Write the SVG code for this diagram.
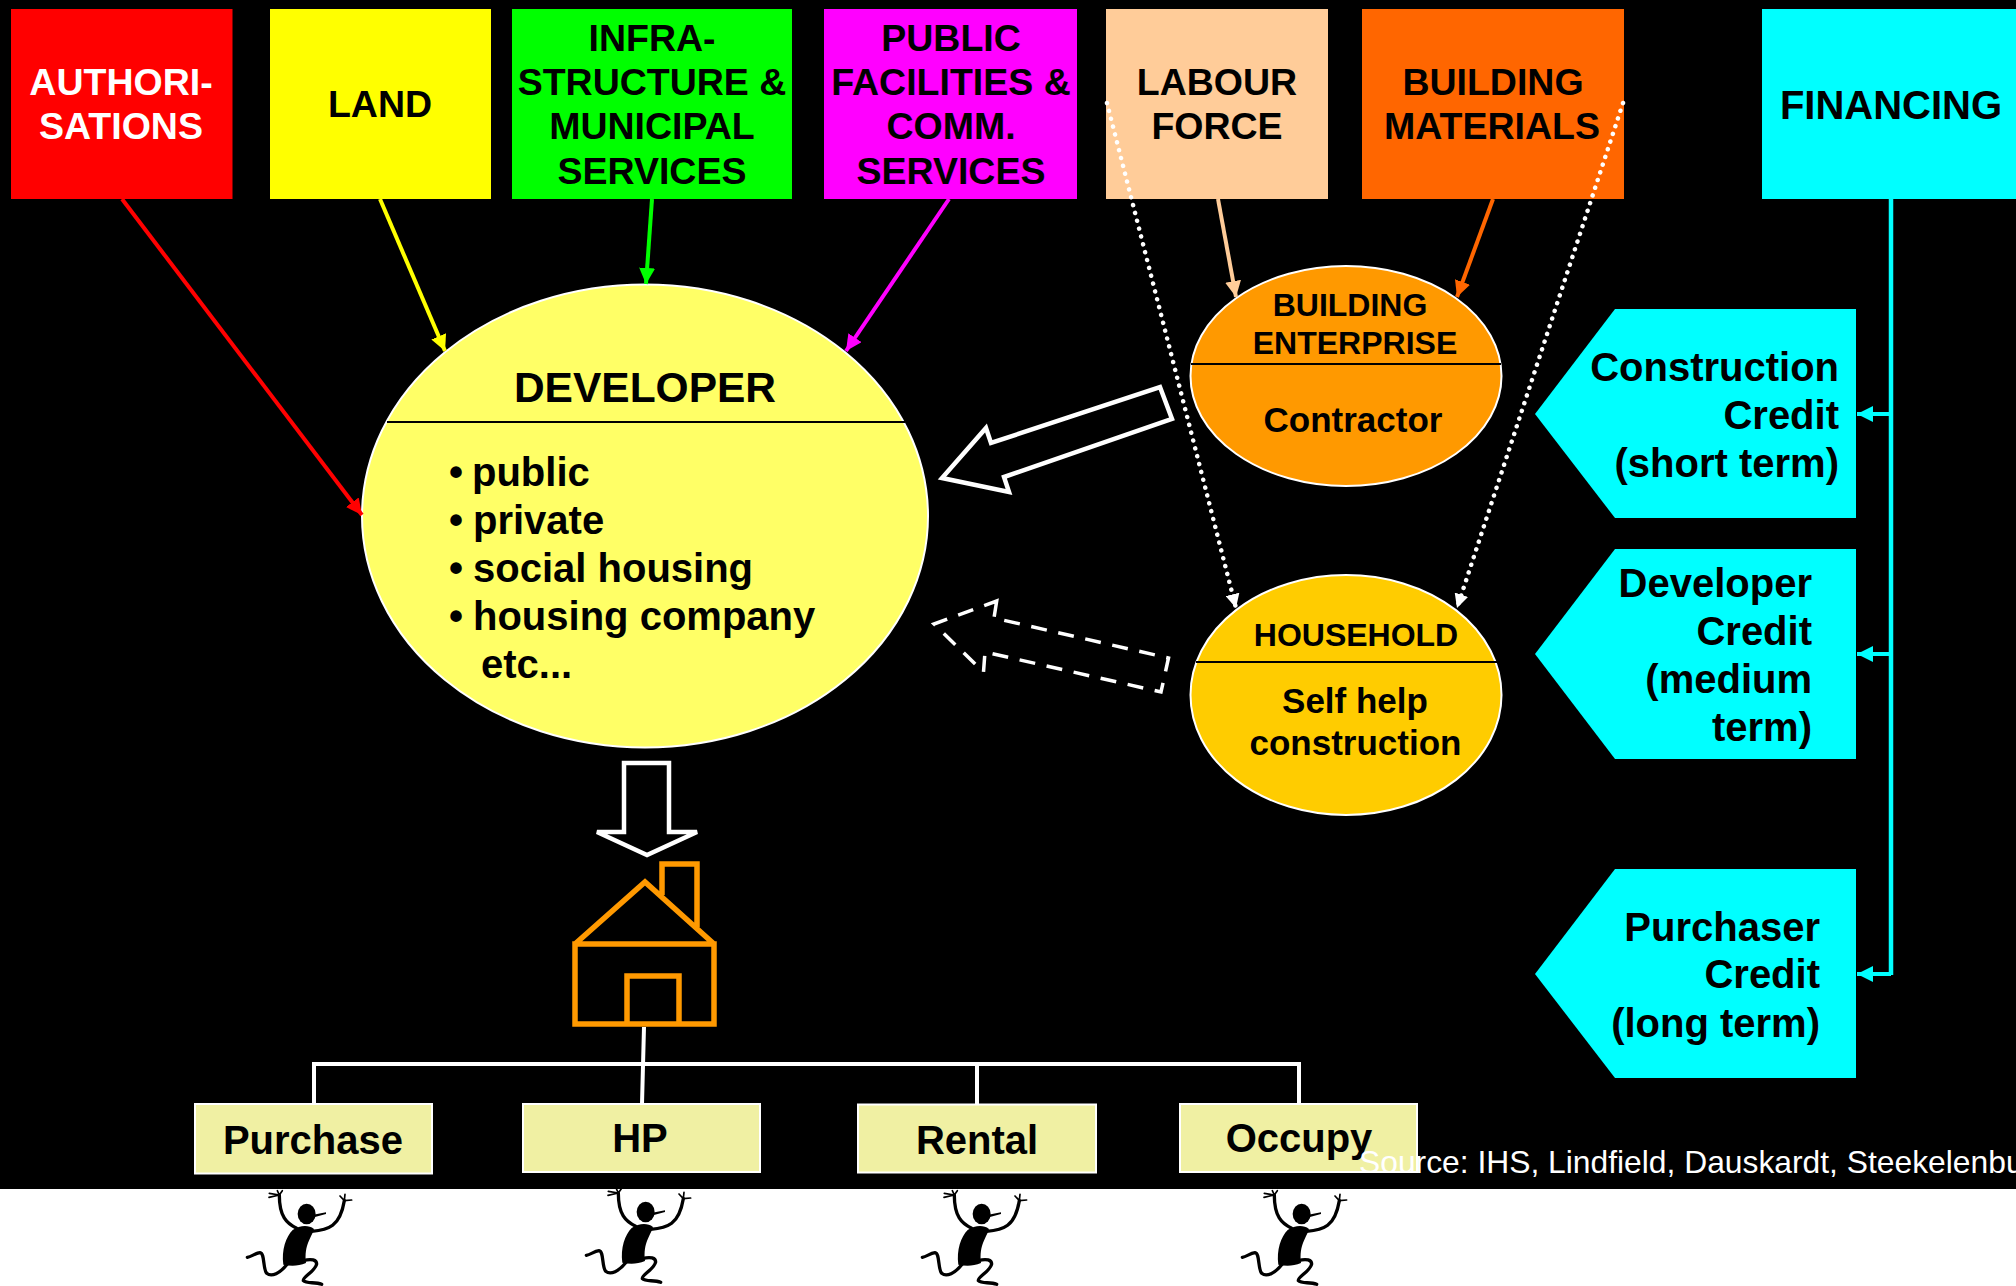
<svg xmlns="http://www.w3.org/2000/svg" width="2016" height="1286" viewBox="0 0 2016 1286">
<style>
text{font-family:"Liberation Sans",Arial,sans-serif;font-weight:700;fill:#000}
.t37{font-size:37.5px;text-anchor:middle}
.t40{font-size:40px}
.t40m{font-size:40px;text-anchor:middle}
.t32{font-size:32px;text-anchor:middle}
.t35{font-size:35px;text-anchor:middle}
.r{font-size:40px;text-anchor:end}
.ell{stroke:#fff;stroke-width:2}
.div{stroke:#000;stroke-width:2;fill:none}
.box{stroke:#fff;stroke-width:2;fill:#f0f0a3}
.cy{fill:#0ff}
.arrow{fill:none;stroke-width:4}
.dot{fill:none;stroke:#fff;stroke-width:4.5;stroke-linecap:round;stroke-dasharray:0.1 8}
.fat{fill:none;stroke:#fff;stroke-width:4.5}
.house{fill:none;stroke:#f90;stroke-width:5.500}
.tree{fill:none;stroke:#fff;stroke-width:4}
.fw{fill:none;stroke:#000;stroke-width:10;stroke-linecap:round;stroke-linejoin:round}
.fw2{fill:none;stroke:#000;stroke-width:5;stroke-linecap:round}
</style>
<defs>
<marker id="mr" viewBox="0 0 10 10" refX="10" refY="5" markerWidth="16" markerHeight="16" markerUnits="userSpaceOnUse" orient="auto"><path d="M0 0L10 5L0 10Z" fill="#f00"/></marker>
<marker id="my" viewBox="0 0 10 10" refX="10" refY="5" markerWidth="16" markerHeight="16" markerUnits="userSpaceOnUse" orient="auto"><path d="M0 0L10 5L0 10Z" fill="#ff0"/></marker>
<marker id="mg" viewBox="0 0 10 10" refX="10" refY="5" markerWidth="16" markerHeight="16" markerUnits="userSpaceOnUse" orient="auto"><path d="M0 0L10 5L0 10Z" fill="#0f0"/></marker>
<marker id="mm" viewBox="0 0 10 10" refX="10" refY="5" markerWidth="16" markerHeight="16" markerUnits="userSpaceOnUse" orient="auto"><path d="M0 0L10 5L0 10Z" fill="#f0f"/></marker>
<marker id="mp" viewBox="0 0 10 10" refX="10" refY="5" markerWidth="16" markerHeight="16" markerUnits="userSpaceOnUse" orient="auto"><path d="M0 0L10 5L0 10Z" fill="#fc9"/></marker>
<marker id="mo" viewBox="0 0 10 10" refX="10" refY="5" markerWidth="16" markerHeight="16" markerUnits="userSpaceOnUse" orient="auto"><path d="M0 0L10 5L0 10Z" fill="#f60"/></marker>
<marker id="mw" viewBox="0 0 10 10" refX="10" refY="5" markerWidth="14" markerHeight="14" markerUnits="userSpaceOnUse" orient="auto"><path d="M0 0L10 5L0 10Z" fill="#fff"/></marker>
<marker id="mc" viewBox="0 0 10 10" refX="10" refY="5" markerWidth="16" markerHeight="16" markerUnits="userSpaceOnUse" orient="auto"><path d="M0 0L10 5L0 10Z" fill="#0ff"/></marker>
<g id="fig" transform="scale(.3333)">
<ellipse cx="320" cy="402" rx="27" ry="31"/>
<path d="M340 404L378 397L378 402L342 412Z"/>
<path d="M278 450C300 436 325 434 342 447C334 474 312 494 318 549C295 559 272 559 250 554C244 510 258 470 278 450Z"/>
<path class="fw" d="M290 445C260 430 238 410 238 345"/>
<path class="fw" d="M335 454C385 450 420 440 433 362"/>
<path class="fw" d="M262 552C240 580 215 592 200 580C188 565 195 520 180 518C165 520 155 530 142 532"/>
<path class="fw" d="M310 542C335 535 350 540 350 552C345 575 308 590 310 602C320 612 345 605 365 613"/>
<path class="fw2" d="M238 345L208 340M238 345L207 352M238 345L232 332M238 345L247 332M433 362L420 348M433 362L435 343M433 362L455 360"/>
</g>
</defs>
<rect id="background" x="0" y="0" width="2016" height="1189" fill="#000"/>
<g id="authorisations"><rect x="11" y="9" width="221.500" height="190" fill="#f00"/><text class="t37" x="121" y="95" style="fill:#fff">AUTHORI-</text><text class="t37" x="121" y="139" style="fill:#fff">SATIONS</text></g>
<g id="land"><rect x="270" y="9" width="221" height="190" fill="#ff0"/><text class="t37" x="380" y="117">LAND</text></g>
<g id="infrastructure"><rect x="512" y="9" width="280" height="190" fill="#0f0"/><text class="t37" x="652" y="51">INFRA-</text><text class="t37" x="652" y="95">STRUCTURE &amp;</text><text class="t37" x="652" y="139">MUNICIPAL</text><text class="t37" x="652" y="184">SERVICES</text></g>
<g id="public-facilities"><rect x="824" y="9" width="253" height="190" fill="#f0f"/><text class="t37" x="951" y="51">PUBLIC</text><text class="t37" x="951" y="95">FACILITIES &amp;</text><text class="t37" x="951" y="139">COMM.</text><text class="t37" x="951" y="184">SERVICES</text></g>
<g id="labour-force"><rect x="1106" y="9" width="222" height="190" fill="#fc9"/><text class="t37" x="1217" y="95">LABOUR</text><text class="t37" x="1217" y="139">FORCE</text></g>
<g id="building-materials"><rect x="1362" y="9" width="262" height="190" fill="#f60"/><text class="t37" x="1493" y="95">BUILDING</text><text class="t37" x="1492" y="139">MATERIALS</text></g>
<g id="financing"><rect x="1762" y="9" width="254" height="190" fill="#0ff"/><text class="t40m" x="1891" y="119">FINANCING</text></g>
<g id="developer"><ellipse class="ell" cx="645" cy="516" rx="283" ry="231.500" fill="#ff6"/><path class="div" d="M387 422H905"/><text class="t40m" x="645" y="402" style="font-size:42.5px">DEVELOPER</text>
<text class="t40" x="449" y="486">•</text><text class="t40" x="472" y="486">public</text>
<text class="t40" x="449" y="534">•</text><text class="t40" x="473" y="534">private</text>
<text class="t40" x="449" y="582">•</text><text class="t40" x="473" y="582">social housing</text>
<text class="t40" x="449" y="630">•</text><text class="t40" x="473" y="630">housing company</text>
<text class="t40" x="481" y="678">etc...</text></g>
<g id="building-enterprise"><ellipse class="ell" cx="1346" cy="376" rx="155.500" ry="110" fill="#f90"/><path class="div" d="M1191 364H1501"/><text class="t32" x="1350" y="316">BUILDING</text><text class="t32" x="1355" y="354">ENTERPRISE</text><text class="t35" x="1353" y="432">Contractor</text></g>
<g id="household"><ellipse class="ell" cx="1346" cy="695" rx="155.500" ry="120" fill="#fc0"/><path class="div" d="M1196 662H1497"/><text class="t32" x="1356" y="646">HOUSEHOLD</text><text class="t35" x="1355" y="713">Self help</text><text class="t35" x="1355.500" y="755">construction</text></g>
<g id="construction-credit"><path class="cy" d="M1535 414L1615 309H1856V518H1615Z"/><text class="r" x="1839" y="381">Construction</text><text class="r" x="1839" y="429">Credit</text><text class="r" x="1839" y="477">(short term)</text></g>
<g id="developer-credit"><path class="cy" d="M1535 654L1615 549H1856V759H1615Z"/><text class="r" x="1812" y="597">Developer</text><text class="r" x="1812" y="645">Credit</text><text class="r" x="1812" y="693">(medium</text><text class="r" x="1812" y="741">term)</text></g>
<g id="purchaser-credit"><path class="cy" d="M1535 974L1615 869H1856V1078H1615Z"/><text class="r" x="1820" y="941">Purchaser</text><text class="r" x="1820" y="988">Credit</text><text class="r" x="1820" y="1037">(long term)</text></g>
<g id="house"><path class="house" d="M575 944H714V1024H575ZM575 944L645 882L714 944M662 895V864H697V927M627 1023V976H679V1023"/></g>
<g id="purchase"><rect class="box" x="195" y="1104" width="237" height="69.500"/><text class="t40m" x="313" y="1154">Purchase</text></g>
<g id="hp"><rect class="box" x="523" y="1104" width="237" height="68"/><text class="t40m" x="640" y="1152">HP</text></g>
<g id="rental"><rect class="box" x="858" y="1104.500" width="238" height="68"/><text class="t40m" x="977" y="1154">Rental</text></g>
<g id="occupy"><rect class="box" x="1180" y="1104" width="237" height="68"/><text class="t40m" x="1299" y="1152">Occupy</text></g>
<g id="connectors">
<path class="arrow" stroke="#f00" marker-end="url(#mr)" d="M122 199L362 515"/>
<path class="arrow" stroke="#ff0" marker-end="url(#my)" d="M380 199L445 351"/>
<path class="arrow" stroke="#0f0" marker-end="url(#mg)" d="M652 199L646 284"/>
<path class="arrow" stroke="#f0f" marker-end="url(#mm)" d="M949 199L846 351"/>
<path class="arrow" stroke="#fc9" marker-end="url(#mp)" d="M1218 199L1236 297"/>
<path class="arrow" stroke="#f60" marker-end="url(#mo)" d="M1493 199L1457 297"/>
<path class="dot" marker-end="url(#mw)" d="M1107 103L1236 608"/>
<path class="dot" marker-end="url(#mw)" d="M1623 103L1457 608"/>
<path d="M1891 199V975" fill="none" stroke="#0ff" stroke-width="4.500"/>
<path class="arrow" stroke="#0ff" marker-end="url(#mc)" d="M1891 414H1857"/>
<path class="arrow" stroke="#0ff" marker-end="url(#mc)" d="M1891 654H1857"/>
<path class="arrow" stroke="#0ff" marker-end="url(#mc)" d="M1891 974H1857"/>
<path class="tree" d="M644 1027L642 1104M314 1104V1064H1299V1103M977 1064V1105"/>
<path class="fat" d="M1160 387L1172 419L1004 477L1009 492L942 478L986 428L991 443Z"/>
<path class="fat" stroke-dasharray="16 11.7" style="stroke-width:3.5" d="M996.700 601L994 618L1168.500 658L1161 692L985 652L983.500 672L934 624Z"/>
<path class="fat" d="M624 763H669V832H697L647 855L597 832H624Z"/>
</g>
<g id="figures">
<use href="#fig" x="200" y="1080"/>
<use href="#fig" x="539" y="1078"/>
<use href="#fig" x="875" y="1080"/>
<use href="#fig" x="1195" y="1080"/>
</g>
<text id="source" x="1359" y="1173" style="font-weight:400;font-size:31.800px;fill:#fff">Source: IHS, Lindfield, Dauskardt, Steekelenbu</text>
</svg>
